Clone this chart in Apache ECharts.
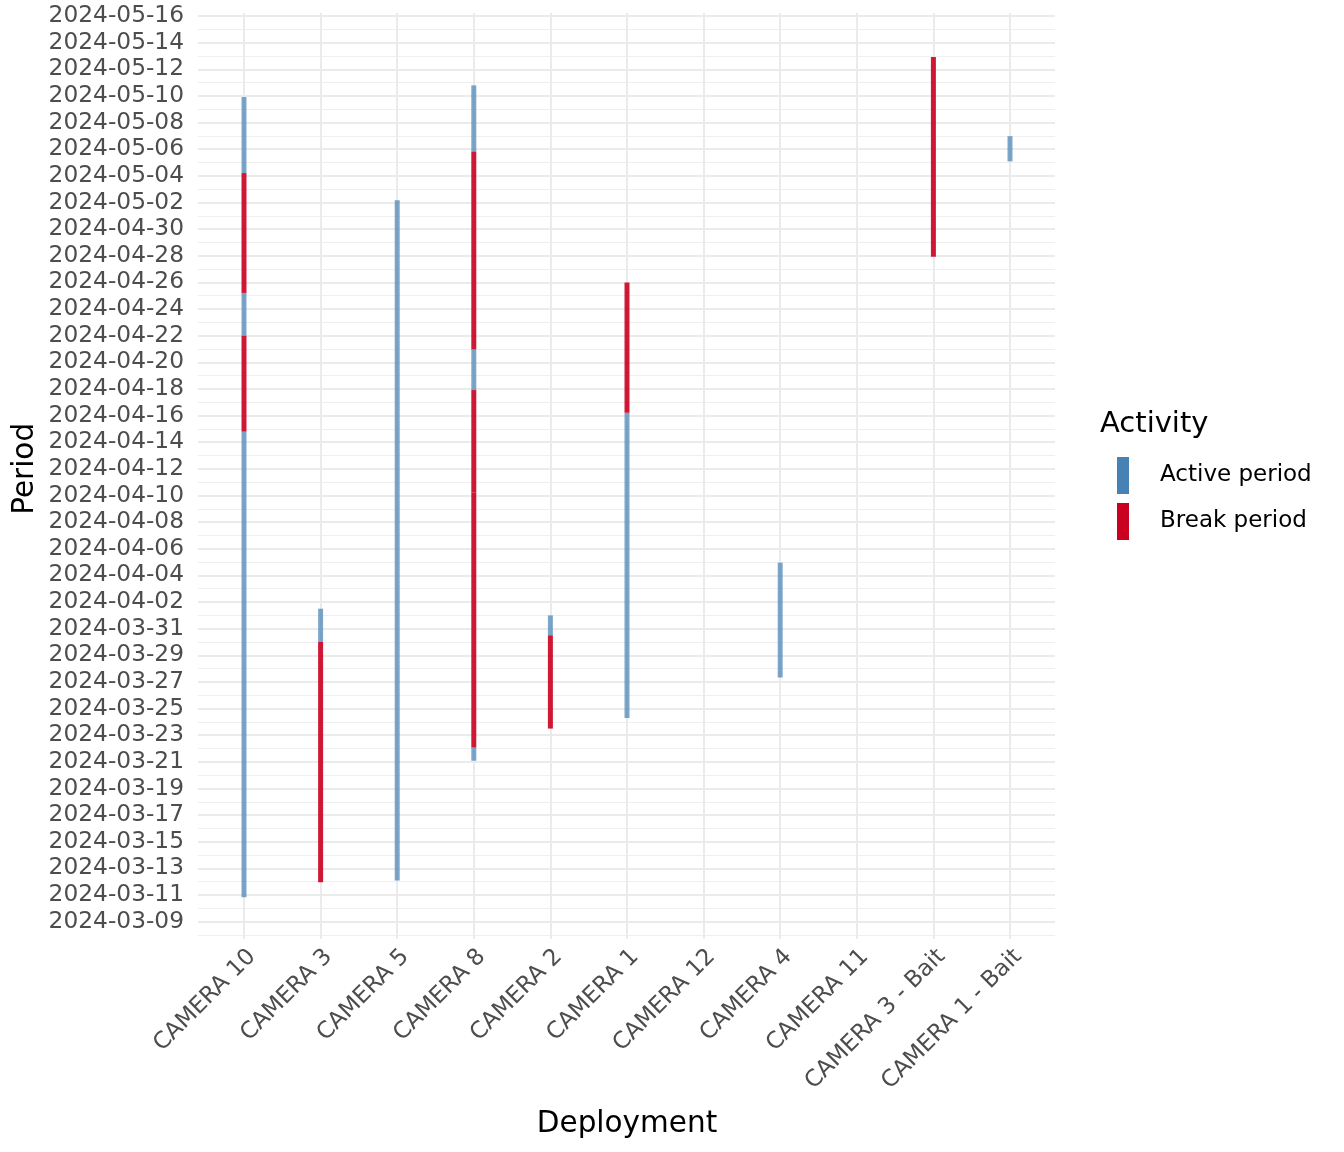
<!DOCTYPE html>
<html>
<head>
<meta charset="utf-8">
<script src="https://cdn.jsdelivr.net/npm/echarts@6/dist/echarts.min.js"></script>
<style>
  html, body { margin: 0; padding: 0; background: #fff; }
  #chart { width: 1344px; height: 1152px; }
</style>
</head>
<body>
<div id="chart"></div>
<script>
// deployments in display order
const deployments = ['CAMERA 10', 'CAMERA 3', 'CAMERA 5', 'CAMERA 8', 'CAMERA 2', 'CAMERA 1',
  'CAMERA 12', 'CAMERA 4', 'CAMERA 11', 'CAMERA 3 - Bait', 'CAMERA 1 - Bait'];

// [deployment, start, end]
const activePeriods = [
  ['CAMERA 10', '2024-03-10 20:00', '2024-04-14 19:00'],
  ['CAMERA 10', '2024-04-22 00:00', '2024-04-25 05:00'],
  ['CAMERA 10', '2024-05-04 05:00', '2024-05-09 22:00'],
  ['CAMERA 3', '2024-03-30 00:00', '2024-04-01 12:00'],
  ['CAMERA 5', '2024-03-12 02:00', '2024-05-02 04:00'],
  ['CAMERA 8', '2024-03-21 02:00', '2024-03-22 02:00'],
  ['CAMERA 8', '2024-04-17 22:00', '2024-04-20 23:00'],
  ['CAMERA 8', '2024-05-05 20:00', '2024-05-10 19:00'],
  ['CAMERA 2', '2024-03-30 12:00', '2024-04-01 00:00'],
  ['CAMERA 1', '2024-03-24 07:00', '2024-04-16 05:00'],
  ['CAMERA 4', '2024-03-27 08:00', '2024-04-04 23:00'],
  ['CAMERA 1 - Bait', '2024-05-05 02:00', '2024-05-06 23:30']
];

const breakPeriods = [
  ['CAMERA 10', '2024-04-14 19:00', '2024-04-22 00:00'],
  ['CAMERA 10', '2024-04-25 05:00', '2024-05-04 05:00'],
  ['CAMERA 3', '2024-03-11 23:00', '2024-03-30 00:00'],
  ['CAMERA 8', '2024-03-22 02:00', '2024-04-10 05:00'],
  ['CAMERA 8', '2024-04-10 05:00', '2024-04-17 22:00'],
  ['CAMERA 8', '2024-04-20 23:00', '2024-05-05 20:00'],
  ['CAMERA 2', '2024-03-23 12:00', '2024-03-30 12:00'],
  ['CAMERA 1', '2024-04-16 05:00', '2024-04-26 00:00'],
  ['CAMERA 3 - Bait', '2024-04-27 22:00', '2024-05-12 22:00']
];

const activeColor = '#4682B4';
const breakColor = '#CA0020';

// y axis works in days from 2024-03-09
const origin = Date.UTC(2024, 2, 9);
const DAY = 86400000;
function toDay(s) {
  const [d, t] = s.split(' ');
  const [y, m, dd] = d.split('-').map(Number);
  const [hh, mm] = t.split(':').map(Number);
  return (Date.UTC(y, m - 1, dd, hh, mm) - origin) / DAY;
}
function dayLabel(v) {
  return new Date(origin + v * DAY).toISOString().slice(0, 10);
}
function toRows(periods) {
  return periods.map(p => [deployments.indexOf(p[0]), toDay(p[1]), toDay(p[2])]);
}

function segment(color, opacity) {
  return function (params, api) {
    const x = api.value(0);
    const a = api.coord([x, api.value(1)]);
    const b = api.coord([x, api.value(2)]);
    return {
      type: 'rect',
      shape: { x: a[0] - 2.5, y: b[1], width: 5, height: a[1] - b[1] },
      style: { fill: color, opacity: opacity }
    };
  };
}

const font = 'DejaVu Sans';
const chart = echarts.init(document.getElementById('chart'));

chart.setOption({
  animation: false,
  backgroundColor: '#fff',
  textStyle: { fontFamily: font },
  title: {
    text: 'Activity', left: 1095, top: 405,
    textStyle: { fontSize: 29, fontWeight: 'normal', color: '#000', fontFamily: font }
  },
  legend: {
    orient: 'vertical', left: 1117, top: 457, padding: 0,
    itemWidth: 12, itemHeight: 37, itemGap: 9, icon: 'rect',
    textStyle: { fontSize: 23, color: '#000', padding: [3, 0, 0, 26], fontFamily: font },
    data: [
      { name: 'Active period', itemStyle: { color: activeColor, opacity: 1 } },
      { name: 'Break period', itemStyle: { color: breakColor, opacity: 1 } }
    ]
  },
  grid: [
    { left: 198, right: 289, top: 16, bottom: 217 },   // minor lines, full panel
    { left: 198, right: 289, top: 16, bottom: 230.3 }, // major lines + date labels
    { left: 244, right: 334, top: 13, bottom: 213 }    // deployments + segments
  ],
  xAxis: [
    { gridIndex: 0, type: 'value', min: -0.6, max: 10.6, show: false },
    { gridIndex: 1, type: 'value', min: -0.6, max: 10.6, show: false },
    {
      gridIndex: 2, type: 'value', min: 0, max: 10, interval: 1,
      axisLine: { show: false }, axisTick: { show: false },
      splitLine: { show: true, lineStyle: { color: '#ebebeb', width: 2 } },
      axisLabel: {
        rotate: 45, fontSize: 23, color: '#4d4d4d', margin: 6, fontFamily: font,
        verticalAlign: 'top',
        formatter: v => deployments[v]
      },
      name: 'Deployment', nameLocation: 'middle', nameGap: 170,
      nameTextStyle: { fontSize: 29.5, color: '#000', fontFamily: font }
    }
  ],
  yAxis: [
    {
      gridIndex: 0, type: 'value', min: -1, max: 68, interval: 1,
      axisLine: { show: false }, axisTick: { show: false }, axisLabel: { show: false },
      splitLine: { show: true, lineStyle: { color: '#efefef', width: 1 } }
    },
    {
      gridIndex: 1, type: 'value', min: 0, max: 68, interval: 2,
      axisLine: { show: false }, axisTick: { show: false },
      splitLine: { show: true, lineStyle: { color: '#ebebeb', width: 2 } },
      axisLabel: { fontSize: 23.3, color: '#4d4d4d', margin: 14, fontFamily: font, formatter: dayLabel },
      name: 'Period', nameLocation: 'middle', nameGap: 158, nameMoveOverlap: false,
      nameTextStyle: { fontSize: 29.5, color: '#000', fontFamily: font }
    },
    { gridIndex: 2, type: 'value', min: -1.3, max: 68.225, show: false }
  ],
  series: [
    {
      name: 'Active period', type: 'custom', xAxisIndex: 2, yAxisIndex: 2,
      itemStyle: { color: activeColor },
      encode: { x: 0, y: [1, 2] },
      renderItem: segment(activeColor, 0.7),
      data: toRows(activePeriods)
    },
    {
      name: 'Break period', type: 'custom', xAxisIndex: 2, yAxisIndex: 2,
      itemStyle: { color: breakColor },
      encode: { x: 0, y: [1, 2] },
      renderItem: segment(breakColor, 0.9),
      data: toRows(breakPeriods)
    }
  ]
});
</script>
</body>
</html>
